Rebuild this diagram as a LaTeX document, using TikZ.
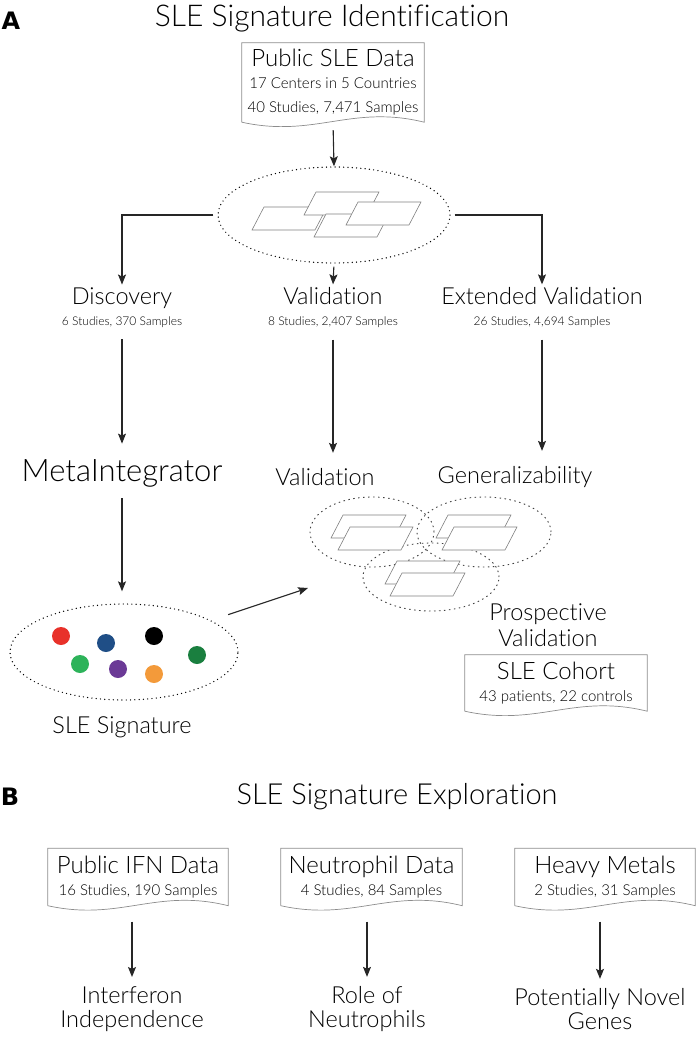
\documentclass[tikz,border=0pt]{standalone}
\usepackage{fontspec}
\setmainfont{Lato Light}[Ligatures=NoCommon]
\newfontfamily\panelfont{DejaVu Sans}
\usetikzlibrary{positioning, calc, shapes.geometric, arrows.meta}

\definecolor{dotred}{HTML}{E8312A}
\definecolor{dotblue}{HTML}{1F4E86}
\definecolor{dotgreen}{HTML}{2DB35A}
\definecolor{dotpurple}{HTML}{6B3A96}
\definecolor{dotorange}{HTML}{F39A3A}
\definecolor{dotdkgreen}{HTML}{1A7F3F}

\newcommand{\detail}[1]{{\fontsize{15}{18}\selectfont #1}}
\newcommand{\smalldetail}[1]{{\fontsize{12}{15}\selectfont #1}}
% document outline with wavy lower edge
\newcommand{\docframe}[1]{%
  \draw[docline] (#1.south west) -- (#1.north west) -- (#1.north east) -- (#1.south east)
    .. controls ($(#1.south east)!0.4!(#1.south west)+(0,-18)$) and ($(#1.south east)!0.6!(#1.south west)+(0,16)$) .. (#1.south west);}
% one data sheet, given by its upper left corner
\newcommand{\sheet}[2]{\filldraw[sheetline] (#1,#2) -- ++(63,0) -- ++(-12,23) -- ++(-63,0) -- cycle;}

\begin{document}
\begin{tikzpicture}[x=1pt, y=-1pt,
    arr/.style={-{Stealth[length=10pt, width=8pt, inset=2pt]}, line width=1.1pt, draw=black!85},
    docline/.style={draw=black!45, line width=0.7pt},
    sheetline/.style={draw=black!50, fill=white, line width=0.6pt},
    pool/.style={ellipse, draw, line width=1.4pt, dash pattern=on 0pt off 4.3pt, line cap=round},
    subpool/.style={ellipse, draw=black!75, line width=0.9pt, dash pattern=on 1.5pt off 3.5pt},
    datadoc/.style={align=center, inner sep=0pt, font=\fontsize{24}{26}\selectfont},
    label/.style={align=center, font=\fontsize{23.5}{26}\selectfont},
    heading/.style={font=\fontsize{30}{34}\selectfont},
    panel/.style={font=\panelfont\bfseries\fontsize{24}{26}\selectfont}]
\useasboundingbox (0,0) rectangle (697,1037);

% panel A
\node[panel] (pA) at (11,21) {A};
\node[heading] (titleA) at (332,18) {SLE Signature Identification};

\node[datadoc, minimum width=182pt, minimum height=79pt] (sledata) at (333,82.5)
  {Public SLE Data\\[-4pt]\detail{17 Centers in 5 Countries}\\[-2pt]\detail{40 Studies, 7,471 Samples}};
\docframe{sledata}

\node[pool, minimum width=232pt, minimum height=96pt] (pool) at (334,215) {};
\sheet{264}{207}
\sheet{316}{192}
\sheet{326}{214}
\sheet{358}{202}

\node[label] (disc) at (122,308) {Discovery\\[-5pt]\smalldetail{6 Studies, 370 Samples}};
\node[label] (valid) at (333,308) {Validation\\[-5pt]\smalldetail{8 Studies, 2,407 Samples}};
\node[label] (extval) at (542,308) {Extended Validation\\[-5pt]\smalldetail{26 Studies, 4,694 Samples}};

\draw[arr, shorten <=8pt] (sledata.south) -- (pool.north);
\draw[arr, shorten <=4pt] (pool.west) -| (disc.north);
\draw[arr, shorten <=4pt] (pool.east) -| (extval.north);
\draw[arr, shorten <=3pt] (pool.south) -- (valid.north);

\node[label, font=\fontsize{31}{34}\selectfont] (meta) at (122,473) {MetaIntegrator};
\node[label] (val2) at (325,477) {Validation};
\node[label] (gen) at (515,477) {Generalizability};

\draw[arr, shorten <=8pt, shorten >=12pt] (disc.south) -- (meta.north -| disc.south);
\draw[arr, shorten <=8pt, shorten >=12pt] (valid.south) -- (val2.north -| valid.south);
\draw[arr, shorten <=8pt, shorten >=12pt] (extval.south) -- (gen.north -| extval.south);

\node[pool, minimum width=228pt, minimum height=96pt] (sig) at (124,652) {};
\fill[dotred] (61,636) circle (9pt);
\fill[dotblue] (106,643) circle (9pt);
\fill[black] (154,636) circle (9pt);
\fill[dotgreen] (80,664) circle (9pt);
\fill[dotpurple] (118,669) circle (9pt);
\fill[dotorange] (154,674) circle (9pt);
\fill[dotdkgreen] (197,655) circle (9pt);
\node[label] (siglabel) at (122,727) {SLE Signature};
\draw[arr, shorten <=8pt, shorten >=12pt] (meta.south) -- (sig.north -| meta.south);

% validation sets
\node[subpool, minimum width=124pt, minimum height=70pt] (vset) at (372,532) {};
\node[subpool, minimum width=134pt, minimum height=70pt] (gset) at (484,532) {};
\node[subpool, minimum width=136pt, minimum height=68pt] (pset) at (431,577) {};
\sheet{343}{515}
\sheet{350}{527}
\sheet{448}{515}
\sheet{454}{527}
\sheet{397}{561}
\sheet{402}{573}
\coordinate (valtip) at (308,588);
\draw[arr, shorten <=18pt] (sig.20) -- (valtip);

\node[label] (prosp) at (548,625) {Prospective\\Validation};
\node[datadoc, minimum width=182pt, minimum height=56pt] (cohort) at (556,683)
  {SLE Cohort\\[-4pt]\detail{43 patients, 22 controls}};
\docframe{cohort}

% panel B
\node[panel] (pB) at (10,797) {B};
\node[heading, font=\fontsize{29}{33}\selectfont] (titleB) at (397,797) {SLE Signature Exploration};

\node[datadoc, minimum width=180pt, minimum height=57pt] (ifn) at (138,877)
  {Public IFN Data\\[-4pt]\detail{16 Studies, 190 Samples}};
\node[datadoc, minimum width=181pt, minimum height=57pt] (neut) at (371.5,877)
  {Neutrophil Data\\[-4pt]\detail{4 Studies, 84 Samples}};
\node[datadoc, minimum width=180pt, minimum height=57pt] (metal) at (605,877)
  {Heavy Metals\\[-4pt]\detail{2 Studies, 31 Samples}};
\docframe{ifn}
\docframe{neut}
\docframe{metal}

\node[label] (indep) at (132,1009) {Interferon\\[-2pt]Independence};
\node[label] (neutrole) at (367,1009) {Role of\\[-2pt]Neutrophils};
\node[label] (novel) at (600,1009) {Potentially Novel\\[-2pt]Genes};

\draw[arr, shorten <=16pt, shorten >=6pt] (indep.north |- ifn.south) -- (indep.north);
\draw[arr, shorten <=16pt, shorten >=6pt] (neutrole.north |- neut.south) -- (neutrole.north);
\draw[arr, shorten <=16pt, shorten >=6pt] (novel.north |- metal.south) -- (novel.north);
\end{tikzpicture}
\end{document}
